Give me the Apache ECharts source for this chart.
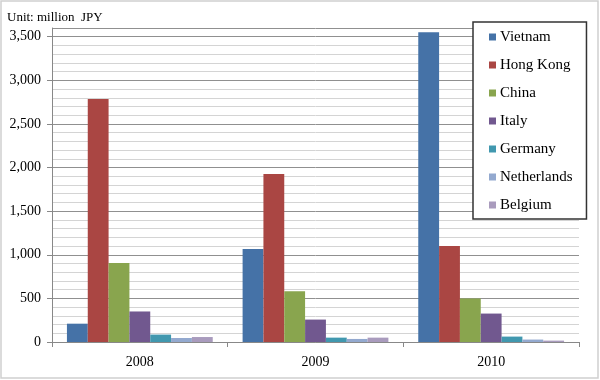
<!DOCTYPE html>
<html>
<head>
<meta charset="utf-8">
<script src="https://cdn.jsdelivr.net/npm/echarts@6/dist/echarts.min.js"></script>
<style>html,body{margin:0;padding:0;background:#fff}#c{width:600px;height:380px}</style>
</head>
<body>
<div id="c"></div>
<script>
const categories = ['2008', '2009', '2010'];
const seriesNames = ['Vietnam', 'Hong Kong', 'China', 'Italy', 'Germany', 'Netherlands', 'Belgium'];
const vietnam = [210, 1065, 3550];
const hongKong = [2785, 1925, 1100];
const china = [905, 582, 498];
const italy = [350, 257, 326];
const germany = [85, 50, 62];
const netherlands = [46, 35, 28];
const belgium = [57, 50, 16];
const colors = ['#4572A7', '#AA4643', '#89A54E', '#71588F', '#4198AF', '#93A9CF', '#A99BBD'];
const values = [vietnam, hongKong, china, italy, germany, netherlands, belgium];

const font = '"Liberation Serif", "Times New Roman", serif';
const chart = echarts.init(document.getElementById('c'), null, {renderer: 'canvas'});
chart.setOption({
  animation: false,
  textStyle: {fontFamily: font},
  title: {
    text: 'Unit: million  JPY', left: 2, top: 6,
    textStyle: {fontFamily: font, fontSize: 13, fontWeight: 'normal', color: '#000'}
  },
  graphic: [{
    type: 'rect', shape: {x: 1, y: 1, width: 597, height: 377},
    style: {fill: null, stroke: '#d0d0d0', lineWidth: 1.5}, silent: true, z: -10
  }],
  grid: {left: 52, right: 21, top: 28, bottom: 38, containLabel: false},
  legend: {
    orient: 'vertical', left: 473, top: 22,
    backgroundColor: '#fff', borderColor: '#333', borderWidth: 1.5,
    padding: [7, 14, 6, 16],
    itemWidth: 7, itemHeight: 7, itemGap: 12, icon: 'rect',
    textStyle: {fontFamily: font, fontSize: 15, color: '#000', lineHeight: 16, padding: [0, 0, 0, -1]},
    data: seriesNames
  },
  xAxis: {
    type: 'category', data: categories,
    axisLine: {lineStyle: {color: '#888', width: 1}},
    axisTick: {show: true, length: 5, lineStyle: {color: '#888'}},
    axisLabel: {fontFamily: font, fontSize: 14, color: '#000', margin: 13}
  },
  yAxis: {
    type: 'value', min: 0, max: 3600, interval: 500,
    axisLine: {show: true, lineStyle: {color: '#888'}},
    axisTick: {show: true, length: 5, lineStyle: {color: '#888'}},
    axisLabel: {
      fontFamily: font, fontSize: 14, color: '#000', margin: 11, showMaxLabel: false,
      formatter: v => v % 500 === 0 ? v.toLocaleString('en-US') : ''
    },
    splitLine: {show: true, lineStyle: {color: '#909090', width: 1}},
    minorTick: {show: false, splitNumber: 5},
    minorSplitLine: {show: true, lineStyle: {color: '#d4d4d4', width: 1}}
  },
  series: seriesNames.map((n, i) => ({
    name: n, type: 'bar', data: values[i],
    barGap: '0%', barCategoryGap: '17%',
    itemStyle: {color: colors[i]}
  }))
});
</script>
</body>
</html>
